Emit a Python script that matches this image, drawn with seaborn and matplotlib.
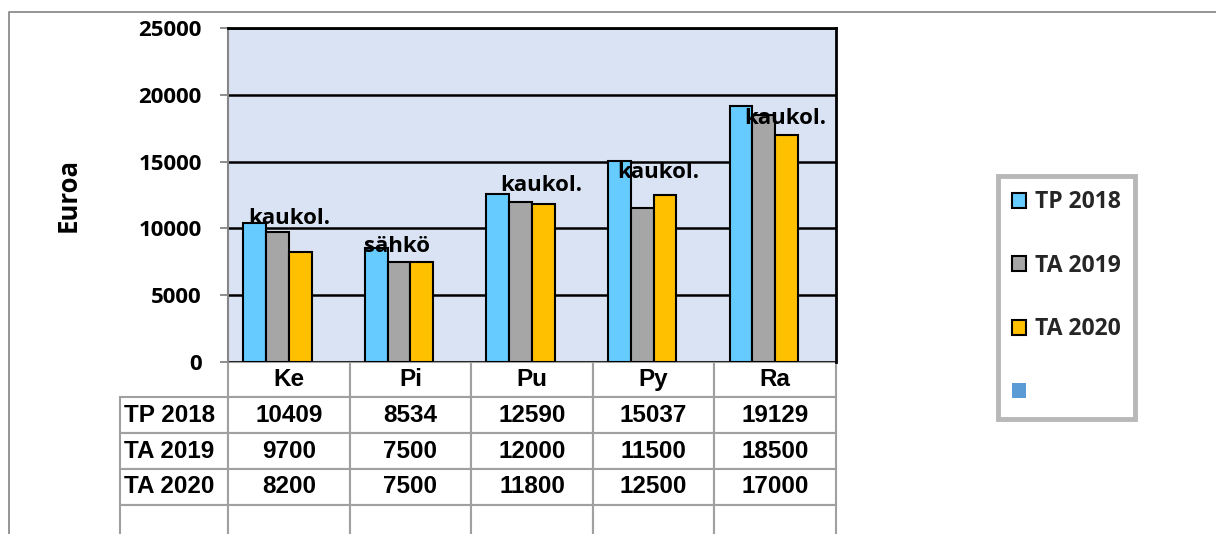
import numpy as np
import pandas as pd
import matplotlib
matplotlib.use("Agg")
import matplotlib.pyplot as plt
import seaborn as sns
from matplotlib.patches import Patch
from matplotlib.lines import Line2D
from matplotlib.table import Table
from matplotlib import font_manager as fm

# ---------------- data ----------------
categories = ["Ke", "Pi", "Pu", "Py", "Ra"]
series_names = ["TP 2018", "TA 2019", "TA 2020"]
tp2018 = [10409, 8534, 12590, 15037, 19129]
ta2019 = [9700, 7500, 12000, 11500, 18500]
ta2020 = [8200, 7500, 11800, 12500, 17000]
heating_labels = ["kaukol.", "sähkö", "kaukol.", "kaukol.", "kaukol."]
yticks = [0, 5000, 10000, 15000, 20000, 25000]

# label anchor positions (x offset from category, y in data units)
label_dx = [0.0, -0.113, 0.074, 0.036, 0.08]
label_y = [10763, 8610, 13238, 14213, 18263]

# ---------------- style ----------------
sns.set_theme(style="white")
main_fonts = ["Open Sans", "Noto Sans", "DejaVu Sans"]
plt.rcParams["font.family"] = main_fonts

avail = {f.name for f in fm.fontManager.ttflist}
def pick(*names):
    for n in names:
        if n in avail:
            return n
    return "DejaVu Sans"
table_font = pick("Liberation Sans Narrow", "Liberation Sans", "Arial")

colors = {"TP 2018": "#66CCFF", "TA 2019": "#A6A6A6", "TA 2020": "#FFC000", "Sarja4": "#5B9BD5"}

W, H = 1216, 534
fig = plt.figure(figsize=(W / 100, H / 100), dpi=100)
fig.patch.set_facecolor("white")

ax_left, ax_top, ax_right, ax_bottom = 228, 28.2, 836, 361.5
ax = fig.add_axes([ax_left / W, (H - ax_bottom) / H, (ax_right - ax_left) / W, (ax_bottom - ax_top) / H])
ax.set_facecolor("#DAE3F3")

df = pd.DataFrame({
    "cat": categories * 3,
    "series": np.repeat(series_names, len(categories)),
    "value": tp2018 + ta2019 + ta2020,
})

sns.barplot(data=df, x="cat", y="value", hue="series",
            hue_order=series_names + ["Sarja4"], palette=colors,
            order=categories, width=0.75, saturation=1, errorbar=None,
            edgecolor="black", linewidth=1.5, legend=False, ax=ax, zorder=3)

ax.set_xlim(-0.5, len(categories) - 0.5)
ax.set_ylim(0, 25000)
ax.set_yticks(yticks)
ax.set_yticklabels([str(t) for t in yticks], fontsize=16, fontweight="bold",
                   color="black", family=main_fonts)
ax.tick_params(axis="y", length=6, width=1.3, color="#868686", pad=13, left=True)
ax.tick_params(axis="x", length=0, labelbottom=False)
ax.set_xlabel("")
ax.set_ylabel("Euroa", fontsize=18.5, fontweight="bold", color="black", family=main_fonts)
ax.yaxis.set_label_coords((82 - ax_left) / (ax_right - ax_left), 0.5)

ax.yaxis.grid(True, color="black", linewidth=1.8, zorder=1)
ax.xaxis.grid(False)
ax.set_axisbelow(True)

for s in ("top", "right"):
    ax.spines[s].set_color("black")
    ax.spines[s].set_linewidth(2)
ax.spines["left"].set_color("#868686")
ax.spines["left"].set_linewidth(1.5)
ax.spines["bottom"].set_visible(False)

# heating type labels
for i, (lab, dx, yy) in enumerate(zip(heating_labels, label_dx, label_y)):
    ax.text(i + dx, yy, lab, ha="center", va="center", fontsize=16,
            fontweight="bold", color="black", family=main_fonts, zorder=5)

# ---------------- data table ----------------
ax_w_px = ax_right - ax_left
ax_h_px = ax_bottom - ax_top
rowlab_px = 108
row_px = 35.8
n_rows = 5
bx0 = -rowlab_px / ax_w_px
bw = 1 + rowlab_px / ax_w_px
bh = n_rows * row_px / ax_h_px
tbl = Table(ax, bbox=[bx0, -bh, bw, bh])
colw = [rowlab_px / ax_w_px] + [1 / len(categories)] * len(categories)
edge = "#A0A0A0"

header = [""] + categories
for c, txt in enumerate(header):
    cell = tbl.add_cell(0, c, colw[c], 1, text=txt, loc="center",
                        edgecolor=edge, facecolor="white")
    if c == 0:
        cell.visible_edges = ""
        cell.set_facecolor("none")

rows = [tp2018, ta2019, ta2020, [None] * len(categories)]
row_labels = series_names + [""]
for r, (lab, vals) in enumerate(zip(row_labels, rows), start=1):
    cell = tbl.add_cell(r, 0, colw[0], 1, text=lab, loc="left",
                        edgecolor=edge, facecolor="white")
    cell.PAD = 0.035
    for c, v in enumerate(vals, start=1):
        tbl.add_cell(r, c, colw[c], 1, text="" if v is None else str(v),
                     loc="center", edgecolor=edge, facecolor="white")

tbl.auto_set_font_size(False)
tbl.set_fontsize(17.5)
for key, cell in tbl.get_celld().items():
    cell.set_linewidth(1.5)
    cell.get_text().set_fontfamily(table_font)
    cell.get_text().set_fontweight("bold")
    cell.get_text().set_color("black")
ax.add_table(tbl)

# ---------------- legend ----------------
handles = [Patch(facecolor=colors[s], edgecolor="black", linewidth=1.5) for s in series_names]
handles.append(Patch(facecolor=colors["Sarja4"], edgecolor="none"))
labels = series_names + [""]
leg = fig.legend(handles, labels, loc="center",
                 bbox_to_anchor=(1066.5 / W, (H - 297.5) / H),
                 frameon=True, fancybox=False, edgecolor="#A6A6A6",
                 prop={"family": main_fonts, "weight": "bold", "size": 16.5},
                 handlelength=0.62, handleheight=0.62, handletextpad=0.4,
                 labelspacing=1.72, borderpad=0.62)
leg.get_frame().set_linewidth(3.5)
leg.get_frame().set_facecolor("white")

# ---------------- outer chart frame ----------------
fx = 8.5 / W
fy = 1 - 12 / H
fig.add_artist(Line2D([fx, fx, 1.0], [0.0, fy, fy], transform=fig.transFigure,
                      color="#8C8C8C", linewidth=1.3))

fig.savefig("out.png", dpi=100)
